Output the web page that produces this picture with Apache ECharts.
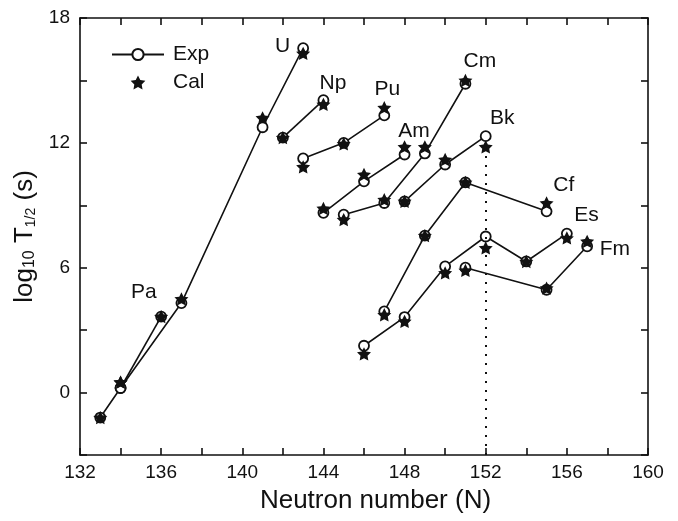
<!DOCTYPE html>
<html>
<head>
<meta charset="utf-8">
<script src="https://cdn.jsdelivr.net/npm/echarts@6/dist/echarts.min.js"></script>
<style>
html,body{margin:0;padding:0;background:#fff;}
#chart{width:678px;height:521px;}
</style>
</head>
<body>
<div id="chart"></div>
<script>
// Neutron numbers and log10 T1/2 values per element
const elements = ['Pa','U','Np','Pu','Am','Cm','Bk','Cf','Es','Fm'];
const nPa = [134, 136];             const expPa = [0.22, 3.65];             const calPa = [0.5, 3.65];
const nU  = [133, 134, 137, 141, 143]; const expU = [-1.2, 0.22, 4.3, 12.75, 16.55]; const calU = [-1.2, 0.5, 4.5, 13.2, 16.3];
const nNp = [142, 144];             const expNp = [12.25, 14.05];           const calNp = [12.25, 13.85];
const nPu = [143, 145, 147];        const expPu = [11.25, 12.0, 13.32];     const calPu = [10.85, 11.95, 13.69];
const nAm = [144, 146, 148];        const expAm = [8.64, 10.15, 11.44];     const calAm = [8.85, 10.48, 11.81];
const nCm = [145, 147, 149, 151];   const expCm = [8.55, 9.11, 11.49, 14.84]; const calCm = [8.31, 9.27, 11.81, 15.0];
const nBk = [148, 150, 152];        const expBk = [9.19, 10.96, 12.32];     const calBk = [9.19, 11.2, 11.81];
const nCf = [147, 149, 151, 155];   const expCf = [3.9, 7.54, 10.1, 8.71];  const calCf = [3.74, 7.54, 10.1, 9.11];
const nEs = [146, 148, 150, 152, 154, 156]; const expEs = [2.25, 3.63, 6.06, 7.5, 6.3, 7.64]; const calEs = [1.86, 3.42, 5.75, 6.95, 6.3, 7.43];
const nFm = [151, 155, 157];        const expFm = [6.0, 4.94, 7.03];        const calFm = [5.87, 5.02, 7.27];

// element label anchor points (data units)
const labelN = [135.15, 141.99, 144.47, 147.15, 148.46, 151.71, 152.82, 155.85, 156.97, 158.37];
const labelY = [4.82, 16.65, 14.86, 14.57, 12.56, 15.93, 13.17, 9.95, 8.52, 6.87];

// N = 152 shell closure marker
const shellN = 152;
const shellTop = 11.6;

// axis ticks
const xTicks = [132, 136, 140, 144, 148, 152, 156, 160];
const yTicks = [0, 6, 12, 18];

const groups = [
  [nPa, expPa, calPa], [nU, expU, calU], [nNp, expNp, calNp], [nPu, expPu, calPu],
  [nAm, expAm, calAm], [nCm, expCm, calCm], [nBk, expBk, calBk], [nCf, expCf, calCf],
  [nEs, expEs, calEs], [nFm, expFm, calFm]
];

const FONT = "'Liberation Sans', Arial, Helvetica, sans-serif";
const INK = '#111111';

const series = [];
groups.forEach(function (g, i) {
  series.push({
    name: 'Exp',
    type: 'line',
    data: g[0].map(function (n, k) { return [n, g[1][k]]; }),
    symbol: 'circle',
    symbolSize: 10,
    showAllSymbol: true,
    lineStyle: { color: INK, width: 1.6 },
    itemStyle: { color: '#fff', borderColor: INK, borderWidth: 1.8, opacity: 1 },
    z: 3,
    silent: true,
    animation: false
  });
});

const starPath = 'path://M0,-10 L2.94,-4.05 L9.51,-3.09 L4.76,1.55 L5.88,8.09 L0,5 L-5.88,8.09 L-4.76,1.55 L-9.51,-3.09 L-2.94,-4.05 Z';
const calData = [];
groups.forEach(function (g) { g[0].forEach(function (n, k) { calData.push([n, g[2][k]]); }); });
series.push({
  name: 'Cal',
  type: 'scatter',
  data: calData,
  symbol: starPath,
  symbolSize: 14,
  symbolKeepAspect: true,
  itemStyle: { color: INK, opacity: 1 },
  z: 5,
  silent: true,
  animation: false
});

// dotted vertical line
series.push({
  type: 'line',
  data: [],
  silent: true,
  animation: false,
  markLine: {
    silent: true,
    symbol: ['none', 'none'],
    label: { show: false },
    lineStyle: { color: INK, type: [2, 7], width: 2, opacity: 1 },
    data: [[{ coord: [shellN, -3] }, { coord: [shellN, shellTop] }]],
    animation: false
  }
});

// element labels
series.push({
  type: 'scatter',
  data: elements.map(function (e, i) { return { name: e, value: [labelN[i], labelY[i]] }; }),
  symbolSize: 0,
  silent: true,
  animation: false,
  itemStyle: { opacity: 1 },
  label: {
    show: true, position: 'inside', formatter: '{b}',
    fontSize: 21, fontFamily: FONT, color: INK, opacity: 1
  },
  z: 6
});

function axisLine() { return { show: true, onZero: false, lineStyle: { color: INK, width: 1.6 } }; }
function axisTick() { return { show: true, inside: true, length: 7, lineStyle: { color: INK, width: 1.6 } }; }

const option = {
  animation: false,
  backgroundColor: '#fff',
  textStyle: { fontFamily: FONT },
  grid: { left: 80, right: 30, top: 18, bottom: 66 },
  legend: {
    orient: 'vertical',
    left: 111,
    top: 44,
    padding: 0,
    itemWidth: 52,
    itemHeight: 14,
    itemGap: 7,
    data: ['Exp', 'Cal'],
    textStyle: { fontSize: 21, fontFamily: FONT, color: INK, lineHeight: 21, padding: [0, 0, 0, 4] },
    selectedMode: false
  },
  xAxis: [
    {
      type: 'value', min: 132, max: 160, interval: 4, position: 'bottom',
      axisLine: axisLine(), axisTick: axisTick(), splitLine: { show: false },
      minorTick: { show: true, splitNumber: 2, length: 7, lineStyle: { color: INK, width: 1.6 } },
      axisLabel: {
        fontSize: 19, color: INK, margin: 8, fontFamily: FONT,
        formatter: function (v) { return xTicks.indexOf(v) >= 0 ? String(v) : ''; }
      },
      name: 'Neutron number (N)',
      nameLocation: 'middle',
      nameGap: 33,
      nameTextStyle: { fontSize: 26, color: INK, fontFamily: FONT, padding: [0, 0, 0, 23] }
    },
    {
      type: 'value', min: 132, max: 160, interval: 2, position: 'top',
      axisLine: axisLine(), axisTick: axisTick(), splitLine: { show: false },
      axisLabel: { show: false }
    }
  ],
  yAxis: [
    {
      type: 'value', min: -3, max: 18, interval: 3, position: 'left',
      axisLine: axisLine(), axisTick: axisTick(), splitLine: { show: false },
      axisLabel: {
        fontSize: 19, color: INK, margin: 10, fontFamily: FONT,
        formatter: function (v) { return yTicks.indexOf(v) >= 0 ? String(v) : ''; }
      },
      name: '{a|log}{s|10}{a| T}{t|1/2}{a| (s)}',
      nameLocation: 'middle',
      nameGap: 40,
      nameTextStyle: {
        color: INK, fontFamily: FONT,
        rich: {
          a: { fontSize: 26, fontFamily: FONT, color: INK, verticalAlign: 'bottom', lineHeight: 30 },
          s: { fontSize: 16, fontFamily: FONT, color: INK, verticalAlign: 'bottom', lineHeight: 18 },
          t: { fontSize: 14, fontFamily: FONT, color: INK, verticalAlign: 'bottom', lineHeight: 16 }
        }
      }
    },
    {
      type: 'value', min: -3, max: 18, interval: 3, position: 'right',
      axisLine: axisLine(), axisTick: axisTick(), splitLine: { show: false },
      axisLabel: { show: false }
    }
  ],
  series: series
};

const chart = echarts.init(document.getElementById('chart'), null, { renderer: 'canvas' });
chart.setOption(option);
</script>
</body>
</html>
